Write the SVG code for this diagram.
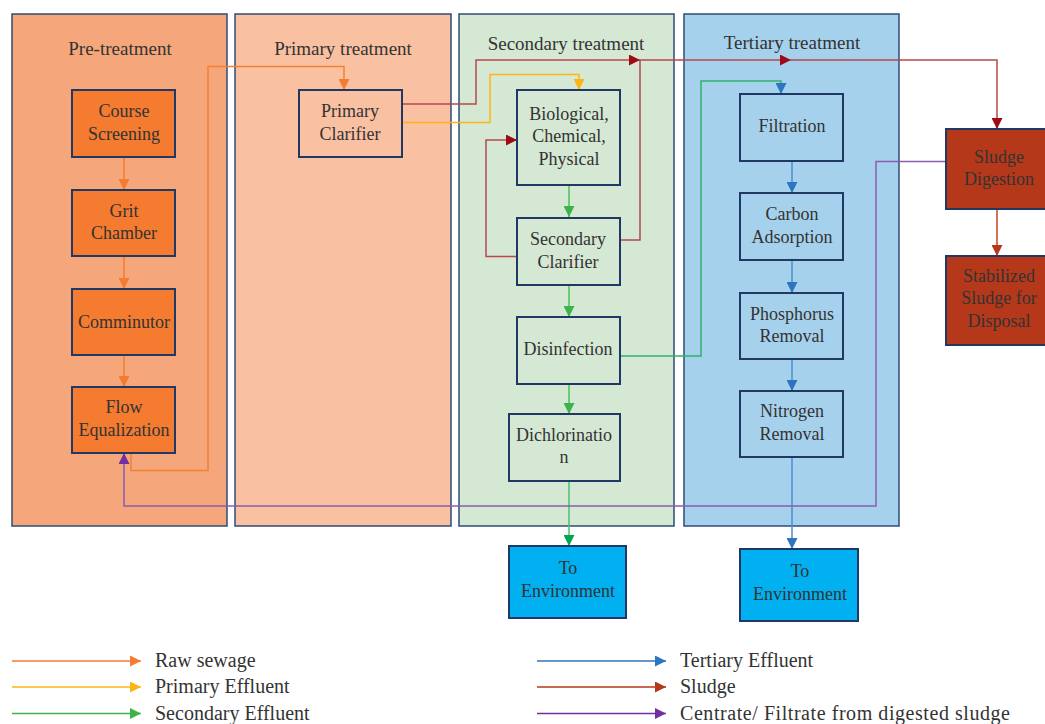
<svg xmlns="http://www.w3.org/2000/svg" width="1045" height="724" viewBox="0 0 1045 724">
<style>
text{font-family:"Liberation Serif","Times New Roman",serif;fill:#333333;text-anchor:middle}
.t{font-size:19px}
.n{font-size:18px}
.lg{font-size:20px;text-anchor:start}
.panel{stroke:#2E4C74;stroke-width:1.5}
.box{stroke:#1F3864;stroke-width:2}
.c{fill:none;stroke-width:1.5}
</style>
<defs>
<marker id="aO" viewBox="0 0 10 10" refX="10" refY="5" markerWidth="11" markerHeight="11" markerUnits="userSpaceOnUse" orient="auto"><path d="M0,0L10,5L0,10z" fill="#F47B30"/></marker>
<marker id="aY" viewBox="0 0 10 10" refX="10" refY="5" markerWidth="11" markerHeight="11" markerUnits="userSpaceOnUse" orient="auto"><path d="M0,0L10,5L0,10z" fill="#FDB515"/></marker>
<marker id="aG" viewBox="0 0 10 10" refX="10" refY="5" markerWidth="11" markerHeight="11" markerUnits="userSpaceOnUse" orient="auto"><path d="M0,0L10,5L0,10z" fill="#3CB44A"/></marker>
<marker id="aG2" viewBox="0 0 10 10" refX="10" refY="5" markerWidth="11" markerHeight="11" markerUnits="userSpaceOnUse" orient="auto"><path d="M0,0L10,5L0,10z" fill="#00A550"/></marker>
<marker id="aB" viewBox="0 0 10 10" refX="10" refY="5" markerWidth="11" markerHeight="11" markerUnits="userSpaceOnUse" orient="auto"><path d="M0,0L10,5L0,10z" fill="#2E75C0"/></marker>
<marker id="aR" viewBox="0 0 10 10" refX="10" refY="5" markerWidth="11" markerHeight="11" markerUnits="userSpaceOnUse" orient="auto"><path d="M0,0L10,5L0,10z" fill="#9E0B14"/></marker>
<marker id="aS" viewBox="0 0 10 10" refX="10" refY="5" markerWidth="11" markerHeight="11" markerUnits="userSpaceOnUse" orient="auto"><path d="M0,0L10,5L0,10z" fill="#B5381A"/></marker>
<marker id="aP" viewBox="0 0 10 10" refX="10" refY="5" markerWidth="11" markerHeight="11" markerUnits="userSpaceOnUse" orient="auto"><path d="M0,0L10,5L0,10z" fill="#7030A0"/></marker>
</defs>
<rect width="1045" height="724" fill="#FFFFFF"/>

<g id="panel-pre">
<rect class="panel" x="12" y="14" width="215" height="512" fill="#F5A77B"/>
<text class="t" x="120" y="55">Pre-treatment</text>
</g>
<g id="panel-primary">
<rect class="panel" x="235" y="14" width="216" height="512" fill="#FAC0A2"/>
<text class="t" x="343" y="55">Primary treatment</text>
</g>
<g id="panel-secondary">
<rect class="panel" x="459" y="14" width="215" height="512" fill="#D5E8D4"/>
<text class="t" x="566" y="50">Secondary treatment</text>
</g>
<g id="panel-tertiary">
<rect class="panel" x="684" y="14" width="215" height="512" fill="#A6D1EC"/>
<text class="t" x="792" y="49">Tertiary treatment</text>
</g>

<g id="connectors">
<path class="c" stroke="#F47B30" d="M124,157V190" marker-end="url(#aO)"/>
<path class="c" stroke="#F47B30" d="M124,256V289" marker-end="url(#aO)"/>
<path class="c" stroke="#F47B30" d="M124,355V387" marker-end="url(#aO)"/>
<path class="c" stroke="#F4812F" d="M131,454V470.5H208V66.5H344V90" marker-end="url(#aO)"/>
<path class="c" stroke="#FDB515" d="M402,122.5H490V74.5H579V90" marker-end="url(#aY)"/>
<path class="c" stroke="#B8474B" d="M402,104H476V60H640" marker-end="url(#aR)"/>
<path class="c" stroke="#B8474B" d="M640,60H791" marker-end="url(#aR)"/>
<path class="c" stroke="#B8474B" d="M791,60H997V129" marker-end="url(#aR)"/>
<path class="c" stroke="#B8474B" d="M620,240H640V60"/>
<path class="c" stroke="#B8474B" d="M517,256.5H486V140H517" marker-end="url(#aR)"/>
<path class="c" stroke="#4CC05A" d="M569,185V217" marker-end="url(#aG)"/>
<path class="c" stroke="#4CC05A" d="M569,285V317" marker-end="url(#aG)"/>
<path class="c" stroke="#4CC05A" d="M569,384V414" marker-end="url(#aG)"/>
<path class="c" stroke="#4CC06A" d="M569,481V546" marker-end="url(#aG2)"/>
<path class="c" stroke="#2EB36A" d="M620,356H701V81H781V94" marker-end="url(#aB)"/>
<path class="c" stroke="#4A8FD0" d="M792,161V193" marker-end="url(#aB)"/>
<path class="c" stroke="#4A8FD0" d="M792,260V293" marker-end="url(#aB)"/>
<path class="c" stroke="#4A8FD0" d="M792,359V391" marker-end="url(#aB)"/>
<path class="c" stroke="#4A8FD0" d="M792,457V549" marker-end="url(#aB)"/>
<path class="c" stroke="#C0441F" d="M997,209V256" marker-end="url(#aS)"/>
<path class="c" stroke="#8B5CB0" d="M946,161.5H876V506H124V453" marker-end="url(#aP)"/>
</g>

<g id="course-screening">
<rect class="box" x="72" y="90" width="103" height="67" fill="#F47B30"/>
<text class="n" x="124" y="117">Course</text>
<text class="n" x="124" y="140">Screening</text>
</g>
<g id="grit-chamber">
<rect class="box" x="72" y="190" width="103" height="66" fill="#F47B30"/>
<text class="n" x="124" y="217">Grit</text>
<text class="n" x="124" y="239">Chamber</text>
</g>
<g id="comminutor">
<rect class="box" x="72" y="289" width="103" height="66" fill="#F47B30"/>
<text class="n" x="124" y="328">Comminutor</text>
</g>
<g id="flow-equalization">
<rect class="box" x="72" y="387" width="103" height="66" fill="#F47B30"/>
<text class="n" x="124" y="413">Flow</text>
<text class="n" x="124" y="436">Equalization</text>
</g>

<g id="primary-clarifier">
<rect class="box" x="299" y="90" width="103" height="67" fill="#FAC0A2"/>
<text class="n" x="350" y="117">Primary</text>
<text class="n" x="350" y="140">Clarifier</text>
</g>

<g id="biological">
<rect class="box" x="517" y="90" width="103" height="95" fill="#D5E8D4"/>
<text class="n" x="569" y="120">Biological,</text>
<text class="n" x="569" y="142">Chemical,</text>
<text class="n" x="569" y="165">Physical</text>
</g>
<g id="secondary-clarifier">
<rect class="box" x="517" y="218" width="103" height="67" fill="#D5E8D4"/>
<text class="n" x="568" y="245">Secondary</text>
<text class="n" x="568" y="268">Clarifier</text>
</g>
<g id="disinfection">
<rect class="box" x="517" y="317" width="103" height="67" fill="#D5E8D4"/>
<text class="n" x="568" y="355">Disinfection</text>
</g>
<g id="dichlorination">
<rect class="box" x="509" y="414" width="111" height="67" fill="#D5E8D4"/>
<text class="n" x="564" y="441">Dichlorinatio</text>
<text class="n" x="564" y="463">n</text>
</g>

<g id="filtration">
<rect class="box" x="740" y="94" width="103" height="67" fill="#A6D1EC"/>
<text class="n" x="792" y="132">Filtration</text>
</g>
<g id="carbon-adsorption">
<rect class="box" x="740" y="193" width="103" height="67" fill="#A6D1EC"/>
<text class="n" x="792" y="220">Carbon</text>
<text class="n" x="792" y="243">Adsorption</text>
</g>
<g id="phosphorus-removal">
<rect class="box" x="740" y="293" width="103" height="66" fill="#A6D1EC"/>
<text class="n" x="792" y="320">Phosphorus</text>
<text class="n" x="792" y="342">Removal</text>
</g>
<g id="nitrogen-removal">
<rect class="box" x="740" y="391" width="103" height="66" fill="#A6D1EC"/>
<text class="n" x="792" y="417">Nitrogen</text>
<text class="n" x="792" y="440">Removal</text>
</g>

<g id="sludge-digestion">
<rect class="box" x="946" y="129" width="104" height="80" fill="#B5381A"/>
<text class="n" x="999" y="163">Sludge</text>
<text class="n" x="999" y="185">Digestion</text>
</g>
<g id="stabilized-sludge">
<rect class="box" x="946" y="256" width="104" height="89" fill="#B5381A"/>
<text class="n" x="999" y="282">Stabilized</text>
<text class="n" x="999" y="304">Sludge for</text>
<text class="n" x="999" y="327">Disposal</text>
</g>

<g id="to-environment-1">
<rect class="box" x="509" y="546" width="117" height="72" fill="#00B0F0"/>
<text class="n" x="568" y="574">To</text>
<text class="n" x="568" y="597">Environment</text>
</g>
<g id="to-environment-2">
<rect class="box" x="740" y="549" width="118" height="72" fill="#00B0F0"/>
<text class="n" x="800" y="577">To</text>
<text class="n" x="800" y="600">Environment</text>
</g>

<g id="legend">
<path class="c" stroke="#F47B30" d="M12,661H141" marker-end="url(#aO)"/>
<text class="lg" x="155" y="667">Raw sewage</text>
<path class="c" stroke="#FDB515" d="M12,687H141" marker-end="url(#aY)"/>
<text class="lg" x="155" y="693">Primary Effluent</text>
<path class="c" stroke="#3CB44A" d="M12,713.5H141" marker-end="url(#aG)"/>
<text class="lg" x="155" y="719.5">Secondary Effluent</text>
<path class="c" stroke="#2E75B6" d="M537,661H666" marker-end="url(#aB)"/>
<text class="lg" x="680" y="667">Tertiary Effluent</text>
<path class="c" stroke="#B5381A" d="M537,687H666" marker-end="url(#aS)"/>
<text class="lg" x="680" y="693">Sludge</text>
<path class="c" stroke="#7030A0" d="M537,713.5H666" marker-end="url(#aP)"/>
<text class="lg" x="680" y="719.5" textLength="330" lengthAdjust="spacing">Centrate/ Filtrate from digested sludge</text>
</g>
</svg>
